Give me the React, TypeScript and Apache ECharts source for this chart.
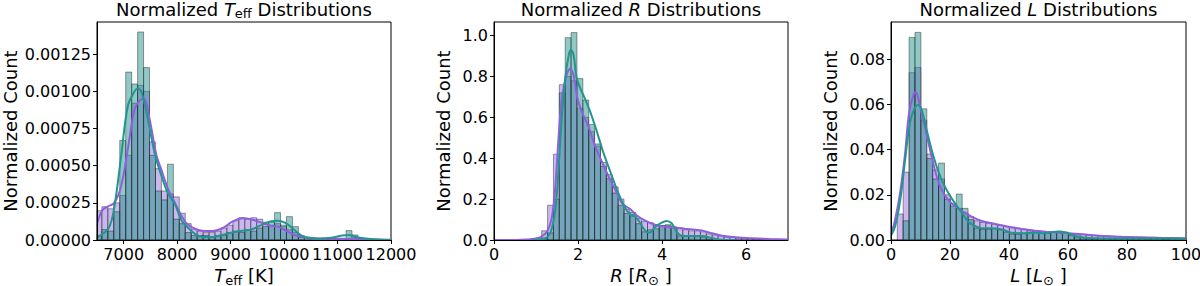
import React, { useEffect, useRef } from "react";
import * as echarts from "echarts";

const FONT = "DejaVu Sans";
const TEAL = "#21918c";
const PURPLE = "#9370db";
const TEAL_LINE = "#22968e";
const PURPLE_LINE = "#8f5fe0";

// ---------- Panel 1: Teff ----------
const teffBinStart = 6480;
const teffBinWidth = 111.4;
const teffPurple = [
  0.000197, 0.000224, 0.00021, 0.00025, 0.0003, 0.00057, 0.00092, 0.00104, 0.001, 0.00066,
  0.00048, 0.00033, 0.00031, 0.00029, 0.00018, 0.00011, 0.00007, 0.00006, 0.00005, 0.00005,
  0.00006, 0.00008, 0.0001, 0.00013, 0.00015, 0.00014, 0.00015, 0.00014, 0.00012, 0.0001,
  0.00011, 0.00009, 0.00007, 0.00005, 0.00003, 0.00002, 0.000015, 0.00001, 0.00001, 0.00001,
  0.00001, 0.00001, 0.00001, 0.000008, 0.000006, 0.000005, 0.000005, 0.000004, 0.000003, 0.000003,
];
const teffTeal = [
  0.00003, 0.00007, 0.00006, 0.00019, 0.00067, 0.00113, 0.00105, 0.0014, 0.00116, 0.00057,
  0.00033, 0.00027, 0.00051, 0.00014, 0.00011, 0.00005, 0.00003, 0.00003, 0.00003, 0.00002,
  0.00003, 0.00003, 0.00005, 0.00006, 0.00005, 0.00007, 0.00006, 0.00008, 0.00009, 0.00012,
  0.000184, 0.0001, 0.000157, 0.00009, 0.00002, 0, 0, 0, 0, 0,
  0, 0, 0.000063, 0.000034, 0, 0, 0, 0, 0, 0,
];
const teffKdePurpleX = [6500, 6600, 6700, 6823, 6950, 7076, 7202, 7300, 7379, 7486, 7612, 7707, 7833, 7959, 8085, 8211, 8464, 8653, 8842, 9031, 9221, 9380, 9570, 9760, 9886, 10050, 10200, 10350, 10520, 10800, 11200, 11600, 12000];
const teffKdePurpleY = [0.00011, 0.0002, 0.000225, 0.00025, 0.00036, 0.00061, 0.00088, 0.00094, 0.00095, 0.00081, 0.00057, 0.00047, 0.00034, 0.00025, 0.00016, 0.0001, 0.000063, 0.00006, 0.000079, 0.000123, 0.000146, 0.00014, 0.000117, 0.000095, 0.00009, 0.00006, 0.000034, 0.00002, 0.00001, 0.000008, 0.000008, 0.000005, 0.000002];
const teffKdeTealX = [6500, 6716, 6823, 6950, 7076, 7202, 7252, 7328, 7454, 7580, 7707, 7833, 7959, 8085, 8211, 8337, 8464, 8653, 8842, 9031, 9221, 9380, 9570, 9760, 9886, 10013, 10139, 10265, 10391, 10580, 10833, 11086, 11213, 11339, 11528, 11800, 12000];
const teffKdeTealY = [0.000018, 0.000079, 0.00022, 0.00056, 0.0009, 0.001, 0.00102, 0.001, 0.00081, 0.00058, 0.00043, 0.00031, 0.00024, 0.00013, 0.00008, 0.00004, 0.00002, 0.00002, 0.000034, 0.00005, 0.000063, 0.00007, 0.0001, 0.000126, 0.00013, 0.000117, 0.000085, 0.000045, 0.000018, 0.00001, 0.000013, 0.00003, 0.000034, 0.00002, 0.00001, 0.000002, 0];
const teffXTicks = [7000, 8000, 9000, 10000, 11000, 12000];
const teffYTicks = [0, 0.00025, 0.0005, 0.00075, 0.001, 0.00125];

// ---------- Panel 2: R ----------
const rBinStart = 0.995;
const rBinWidth = 0.14;
const rPurple = [
  0.01, 0.045, 0.17, 0.42, 0.76, 0.8, 0.78, 0.645, 0.6, 0.53,
  0.46, 0.38, 0.32, 0.26, 0.2, 0.15, 0.125, 0.105, 0.09, 0.085,
  0.075, 0.07, 0.07, 0.065, 0.06, 0.05, 0.045, 0.045, 0.04, 0.03,
  0.025, 0.02, 0.015, 0.012, 0.01, 0.008, 0.006, 0.005, 0.004, 0.004,
  0.003, 0.003, 0.002,
];
const rTeal = [
  0, 0.01, 0.035, 0.2, 0.72, 0.99, 1.015, 0.79, 0.685, 0.565,
  0.47, 0.36, 0.3, 0.23, 0.17, 0.13, 0.135, 0.08, 0.04, 0.05,
  0.055, 0.07, 0.075, 0.06, 0.02, 0.02, 0.02, 0.02, 0.015, 0.005,
  0, 0, 0, 0, 0, 0, 0, 0, 0, 0,
  0, 0, 0,
];
const rKdePurpleX = [0, 0.5, 0.8, 1.0, 1.1, 1.26, 1.38, 1.46, 1.54, 1.62, 1.74, 1.82, 1.9, 1.98, 2.05, 2.15, 2.25, 2.41, 2.57, 2.73, 2.89, 3.05, 3.25, 3.4, 3.6, 3.83, 4.07, 4.31, 4.55, 4.79, 4.95, 5.19, 5.43, 5.75, 6.15, 6.55, 7.0];
const rKdePurpleY = [0, 0.0005, 0.003, 0.007, 0.013, 0.04, 0.114, 0.26, 0.51, 0.7, 0.816, 0.84, 0.8, 0.7, 0.65, 0.6, 0.555, 0.457, 0.383, 0.31, 0.245, 0.18, 0.15, 0.12, 0.095, 0.075, 0.065, 0.06, 0.055, 0.05, 0.046, 0.033, 0.021, 0.013, 0.008, 0.005, 0.003];
const rKdeTealX = [0.9, 1.1, 1.22, 1.34, 1.46, 1.54, 1.62, 1.7, 1.78, 1.83, 1.9, 1.96, 2.04, 2.18, 2.29, 2.45, 2.61, 2.77, 2.93, 3.09, 3.25, 3.37, 3.49, 3.6, 3.7, 3.83, 3.99, 4.11, 4.23, 4.35, 4.47, 4.71, 4.95, 5.15, 5.35, 5.75];
const rKdeTealY = [0, 0.002, 0.008, 0.033, 0.15, 0.36, 0.62, 0.8, 0.905, 0.93, 0.9, 0.8, 0.75, 0.685, 0.628, 0.53, 0.424, 0.334, 0.245, 0.17, 0.122, 0.114, 0.08, 0.045, 0.036, 0.062, 0.085, 0.093, 0.082, 0.04, 0.021, 0.02, 0.02, 0.011, 0.003, 0];
const rXTicks = [0, 2, 4, 6];
const rYTicks = [0, 0.2, 0.4, 0.6, 0.8, 1.0];

// ---------- Panel 3: L ----------
const lBinStart = 0.13;
const lBinWidth = 2.0;
const lPurple = [
  0, 0.0115, 0.03, 0.074, 0.0763, 0.053, 0.038, 0.031, 0.027, 0.02,
  0.016, 0.014, 0.012, 0.0103, 0.0085, 0.0078, 0.0074, 0.007, 0.0065, 0.006,
  0.0056, 0.0052, 0.0048, 0.0045, 0.0041, 0.0038, 0.0035, 0.0033, 0.0031, 0.003,
  0.0028, 0.0026, 0.0024, 0.0022, 0.002, 0.0019, 0.0018, 0.0017, 0.0016, 0.0015,
  0.0014, 0.0013, 0.0013, 0.0012, 0.0012, 0.0011, 0.0011, 0.001, 0.001, 0.0009,
];
const lTeal = [
  0, 0, 0.0085, 0.0896, 0.0918, 0.058, 0.036, 0.027, 0.034, 0.018,
  0.015, 0.0203, 0.014, 0.009, 0.0052, 0.0047, 0.0047, 0.005, 0.0045, 0.0035,
  0.0025, 0.0025, 0.003, 0.0035, 0.0035, 0.003, 0.003, 0.0035, 0.004, 0.0035,
  0.002, 0.001, 0.0005, 0.0006, 0.0004, 0.0006, 0.0005, 0.0004, 0.0006, 0.0005,
  0.0004, 0.0005, 0.0006, 0.0004, 0.0005, 0.0005, 0.0004, 0.0005, 0.0004, 0.0003,
];
const lKdePurpleX = [0, 1.36, 3.05, 4.75, 6.1, 7.57, 8.36, 9.27, 10.4, 12.1, 13.8, 15.5, 17.2, 19.4, 21.7, 24.5, 27.3, 30.7, 35.3, 39.8, 44.3, 48.8, 55, 60, 65, 71.5, 82.8, 94, 100];
const lKdePurpleY = [0.0025, 0.0088, 0.0206, 0.038, 0.056, 0.064, 0.0653, 0.0626, 0.056, 0.0464, 0.0368, 0.028, 0.0221, 0.0177, 0.015, 0.0125, 0.0103, 0.0084, 0.0071, 0.0059, 0.0049, 0.0041, 0.0034, 0.003, 0.0025, 0.0018, 0.0012, 0.0009, 0.0007];
const lKdeTealX = [0, 1.36, 3.05, 4.75, 6.44, 8.14, 9.27, 10.4, 12.1, 13.8, 15.5, 17.2, 19.4, 21.7, 24.0, 26.2, 28.5, 30.7, 34.1, 37.5, 40.9, 44.3, 48.8, 52.3, 55.7, 59, 62.5, 65.9, 72, 80, 90, 100];
const lKdeTealY = [0.002, 0.0059, 0.017, 0.035, 0.052, 0.0587, 0.0597, 0.0575, 0.0486, 0.0398, 0.0324, 0.0265, 0.0209, 0.0162, 0.0121, 0.0081, 0.0062, 0.0052, 0.0052, 0.0047, 0.0032, 0.003, 0.0032, 0.003, 0.0037, 0.0034, 0.0018, 0.001, 0.0007, 0.0007, 0.0007, 0.0006];
const lXTicks = [0, 20, 40, 60, 80, 100];
const lYTicks = [0, 0.02, 0.04, 0.06, 0.08];

const hist = (start: number, width: number, vals: number[]) =>
  vals.map((v, i) => [start + i * width, start + (i + 1) * width, v]);
const zip = (xs: number[], ys: number[]) => xs.map((x, i) => [x, ys[i]]);

const TICK_FONT = 16;

const rich = {
  n: { fontSize: 18, fontFamily: FONT, color: "#000", lineHeight: 22 },
  i: { fontSize: 18, fontFamily: FONT, fontStyle: "italic", color: "#000", lineHeight: 22 },
  s: { fontSize: 13, fontFamily: FONT, color: "#000", lineHeight: 12, verticalAlign: "bottom" },
};

const inList = (v: number, ticks: number[]) => ticks.some((t) => Math.abs(t - v) < 1e-9 * Math.max(1, Math.abs(t)) + 1e-12);

export default function App() {
  const ref = useRef<HTMLDivElement>(null);
  useEffect(() => {
    if (!ref.current) return;
    const chart = echarts.init(ref.current, null, { renderer: "svg" });

    const grids = [
      { left: 97, width: 294, top: 22, height: 218 },
      { left: 494, width: 294, top: 22, height: 218 },
      { left: 891, width: 295, top: 22, height: 218 },
    ];

    const makeBarSeries = (idx: number, data: number[][], color: string, z: number) => ({
      type: "custom",
      xAxisIndex: idx,
      yAxisIndex: idx,
      z,
      data,
      encode: { x: [0, 1], y: 2 },
      renderItem: (params: any, api: any) => {
        const h = api.value(2);
        if (!(h > 0)) return null;
        const p0 = api.coord([api.value(0), h]);
        const p1 = api.coord([api.value(1), 0]);
        const cs = params.coordSys;
        const shape = echarts.graphic.clipRectByRect(
          { x: p0[0], y: p0[1], width: p1[0] - p0[0], height: p1[1] - p0[1] },
          { x: cs.x, y: cs.y, width: cs.width, height: cs.height }
        );
        if (!shape) return null;
        return {
          type: "rect",
          shape,
          style: { fill: color, opacity: 0.5, stroke: "#222", lineWidth: 0.9 },
        };
      },
    });

    const makeLine = (idx: number, data: number[][], color: string, z: number) => ({
      type: "line",
      xAxisIndex: idx,
      yAxisIndex: idx,
      z,
      data,
      showSymbol: false,
      smooth: 0.35,
      clip: true,
      lineStyle: { color, width: 2 },
    });

    const labelStyle = (fmt: (v: number) => string, ticks: number[]) => ({
      fontSize: TICK_FONT,
      fontFamily: FONT,
      color: "#000",
      margin: 6,
      hideOverlap: false,
      showMinLabel: true,
      showMaxLabel: true,
      formatter: (v: any) => (inList(Number(v), ticks) ? fmt(Number(v)) : ""),
    });

    const xAxisBase = (idx: number, min: number, max: number, interval: number, ticks: number[], name: string) => ({
      type: "value",
      gridIndex: idx,
      min,
      max,
      interval,
      z: 10,
      axisLine: { show: true, lineStyle: { color: "#000", width: 1 } },
      axisTick: { show: true, length: 4, lineStyle: { color: "#000", width: 1 }, customValues: ticks },
      axisLabel: labelStyle((v) => String(v), ticks),
      splitLine: { show: false },
      name,
      nameLocation: "middle",
      nameGap: 21,
      nameTextStyle: { rich, verticalAlign: "top" },
    });

    const yAxisBase = (idx: number, max: number, interval: number, ticks: number[], digits: number, gap: number) => ({
      type: "value",
      gridIndex: idx,
      min: 0,
      max,
      interval,
      z: 10,
      axisLine: { show: true, lineStyle: { color: "#000", width: 1 } },
      axisTick: { show: true, length: 4, lineStyle: { color: "#000", width: 1 }, customValues: ticks },
      axisLabel: labelStyle((v) => v.toFixed(digits), ticks),
      splitLine: { show: false },
      name: "Normalized Count",
      nameLocation: "middle",
      nameGap: gap,
      nameRotate: 90,
      nameTextStyle: { fontSize: 18, fontFamily: FONT, color: "#000" },
    });

    const titleAt = (g: any, text: string) => ({
      text,
      left: g.left + g.width / 2,
      top: -2,
      padding: 0,
      textAlign: "center",
      textStyle: { rich, fontSize: 18, fontWeight: "normal", color: "#000" },
    });

    chart.setOption({
      animation: false,
      backgroundColor: "#fff",
      textStyle: { fontFamily: FONT, fontSize: TICK_FONT, color: "#000" },
      title: [
        titleAt(grids[0], "{n|Normalized }{i|T}{s|eff}{n| Distributions}"),
        titleAt(grids[1], "{n|Normalized }{i|R}{n| Distributions}"),
        titleAt(grids[2], "{n|Normalized }{i|L}{n| Distributions}"),
      ],
      grid: grids.map((g) => ({
        ...g,
        show: true,
        containLabel: false,
        outerBoundsMode: "none",
        borderColor: "#000",
        borderWidth: 1,
        backgroundColor: "transparent",
      })),
      xAxis: [
        xAxisBase(0, 6500, 12000, 500, teffXTicks, "{i|T}{s|eff}{n| [K]}"),
        xAxisBase(1, 0, 7, 2, rXTicks, "{i|R}{n| [}{i|R}{s|⊙}{n| ]}"),
        xAxisBase(2, 0, 100, 20, lXTicks, "{i|L}{n| [}{i|L}{s|⊙}{n| ]}"),
      ],
      yAxis: [
        yAxisBase(0, 0.001467, 0.00025, teffYTicks, 5, 78),
        yAxisBase(1, 1.067, 0.2, rYTicks, 1, 42),
        yAxisBase(2, 0.0964, 0.02, lYTicks, 2, 52),
      ],
      series: [
        makeBarSeries(0, hist(teffBinStart, teffBinWidth, teffPurple), PURPLE, 2),
        makeBarSeries(0, hist(teffBinStart, teffBinWidth, teffTeal), TEAL, 3),
        makeLine(0, zip(teffKdePurpleX, teffKdePurpleY), PURPLE_LINE, 4),
        makeLine(0, zip(teffKdeTealX, teffKdeTealY), TEAL_LINE, 5),
        makeBarSeries(1, hist(rBinStart, rBinWidth, rPurple), PURPLE, 2),
        makeBarSeries(1, hist(rBinStart, rBinWidth, rTeal), TEAL, 3),
        makeLine(1, zip(rKdePurpleX, rKdePurpleY), PURPLE_LINE, 4),
        makeLine(1, zip(rKdeTealX, rKdeTealY), TEAL_LINE, 5),
        makeBarSeries(2, hist(lBinStart, lBinWidth, lPurple), PURPLE, 2),
        makeBarSeries(2, hist(lBinStart, lBinWidth, lTeal), TEAL, 3),
        makeLine(2, zip(lKdePurpleX, lKdePurpleY), PURPLE_LINE, 4),
        makeLine(2, zip(lKdeTealX, lKdeTealY), TEAL_LINE, 5),
      ],
    });
    return () => chart.dispose();
  }, []);

  return (
    <div
      ref={ref}
      style={{ position: "fixed", left: 0, top: 0, width: 1200, height: 286, background: "#fff" }}
    />
  );
}
